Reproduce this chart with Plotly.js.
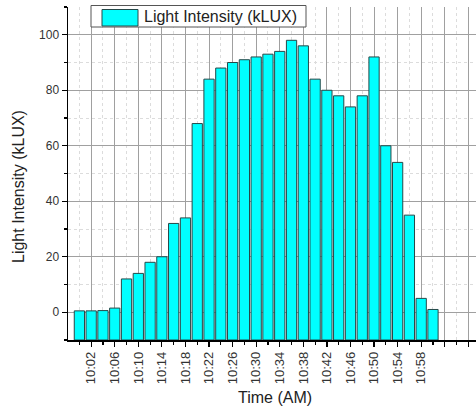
<!DOCTYPE html>
<html>
<head>
<meta charset="utf-8">
<script src="https://cdn.plot.ly/plotly-3.0.1.min.js"></script>
<style>html,body{margin:0;padding:0;background:#fff;overflow:hidden;}</style>
</head>
<body>
<div id="chart" style="width:476px;height:410px;"></div>
<script>
// ---- data ----
const times = ["10:00","10:02","10:04","10:06","10:08","10:10","10:12","10:14","10:16","10:18",
               "10:20","10:22","10:24","10:26","10:28","10:30","10:32","10:34","10:36","10:38",
               "10:40","10:42","10:44","10:46","10:48","10:50","10:52","10:54","10:56","10:58","11:00"];
const lightKLux = [0.5,0.5,0.6,1.5,12,14,18,20,32,34,
                   68,84,88,90,91,92,93,94,98,96,
                   84,80,78,74,78,92,60,54,35,5,1];
const tickLabels = ["10:02","10:06","10:10","10:14","10:18","10:22","10:26","10:30",
                    "10:34","10:38","10:42","10:46","10:50","10:54","10:58"];
const unlabeledTicks = ["11:02","11:06"];
const seriesName = "Light Intensity (kLUX)";
const yBottom = -10;

function toMin(s){ const p = s.split(':').map(Number); return (p[0]-10)*60 + p[1]; }

const xs = times.map(toMin);
const tickvals = tickLabels.map(toMin).concat(unlabeledTicks.map(toMin));
const ticktext = tickLabels.concat(unlabeledTicks.map(() => ""));

const font = "Liberation Sans, Arial, sans-serif";

const trace = {
  type: 'bar',
  x: xs,
  y: lightKLux.map(v => v - yBottom),
  base: yBottom,
  name: seriesName,
  marker: {color: '#00FFFF', line: {color: '#264848', width: 1}},
  showlegend: false,
  hoverinfo: 'skip'
};

const L = 68, T = 7, PW = 476 - 68, PH = 410 - 7 - 70;
const px = x => (x - L) / PW;
const py = y => (T + PH - y) / PH;

const layout = {
  width: 476, height: 410,
  margin: {l: L, r: 0, t: T, b: 70, pad: 0},
  paper_bgcolor: '#ffffff', plot_bgcolor: '#ffffff',
  font: {family: font, size: 12, color: '#333333'},
  bargap: 0.13,
  xaxis: {
    range: [-1.93, 67.3],
    tickmode: 'array', tickvals: tickvals, ticktext: ticktext,
    tickangle: -90,
    ticks: 'outside', ticklen: 5, tickwidth: 1.2, tickcolor: '#000',
    showline: true, linecolor: '#000', linewidth: 1.5,
    showgrid: true, gridcolor: '#a0a0a0', gridwidth: 1,
    zeroline: false,
    tickfont: {family: font, size: 13, color: '#333'},
    minor: {tickmode: 'linear', tick0: 0, dtick: 4, ticks: 'outside', ticklen: 3, tickcolor: '#000',
            showgrid: true, gridcolor: '#dcdcdc', griddash: 'dot', gridwidth: 1}
  },
  yaxis: {
    range: [-10, 110],
    tickmode: 'linear', tick0: 0, dtick: 20,
    ticks: 'outside', ticklen: 5, tickwidth: 1.2, tickcolor: '#000',
    showline: true, linecolor: '#000', linewidth: 1.5,
    showgrid: true, gridcolor: '#a0a0a0', gridwidth: 1,
    zeroline: false,
    tickfont: {family: font, size: 12, color: '#333'},
    minor: {tickmode: 'linear', tick0: 0, dtick: 10, ticks: 'outside', ticklen: 3, tickcolor: '#000',
            showgrid: true, gridcolor: '#dcdcdc', griddash: 'dot', gridwidth: 1}
  },
  shapes: [
    {type: 'rect', xref: 'paper', yref: 'paper', x0: px(91), x1: px(306), y0: py(27), y1: py(5.5),
     fillcolor: '#ffffff', line: {color: '#555', width: 1}, layer: 'above'},
    {type: 'rect', xref: 'paper', yref: 'paper', x0: px(102), x1: px(138), y0: py(26), y1: py(9.5),
     fillcolor: '#00FFFF', line: {color: '#264848', width: 1}, layer: 'above'}
  ],
  annotations: [
    {xref: 'paper', yref: 'paper', x: px(142), y: py(16.5), xanchor: 'left', yanchor: 'middle',
     text: seriesName, showarrow: false, font: {family: font, size: 16, color: '#222'}},
    {xref: 'paper', yref: 'paper', x: px(18), y: py(187), xanchor: 'center', yanchor: 'middle',
     textangle: -90, text: 'Light Intensity (kLUX)', showarrow: false, font: {family: font, size: 16, color: '#222'}},
    {xref: 'paper', yref: 'paper', x: px(275), y: py(397), xanchor: 'center', yanchor: 'middle',
     text: 'Time (AM)', showarrow: false, font: {family: font, size: 16, color: '#222'}}
  ]
};

Plotly.newPlot('chart', [trace], layout, {displayModeBar: false, staticPlot: true});
</script>
</body>
</html>
